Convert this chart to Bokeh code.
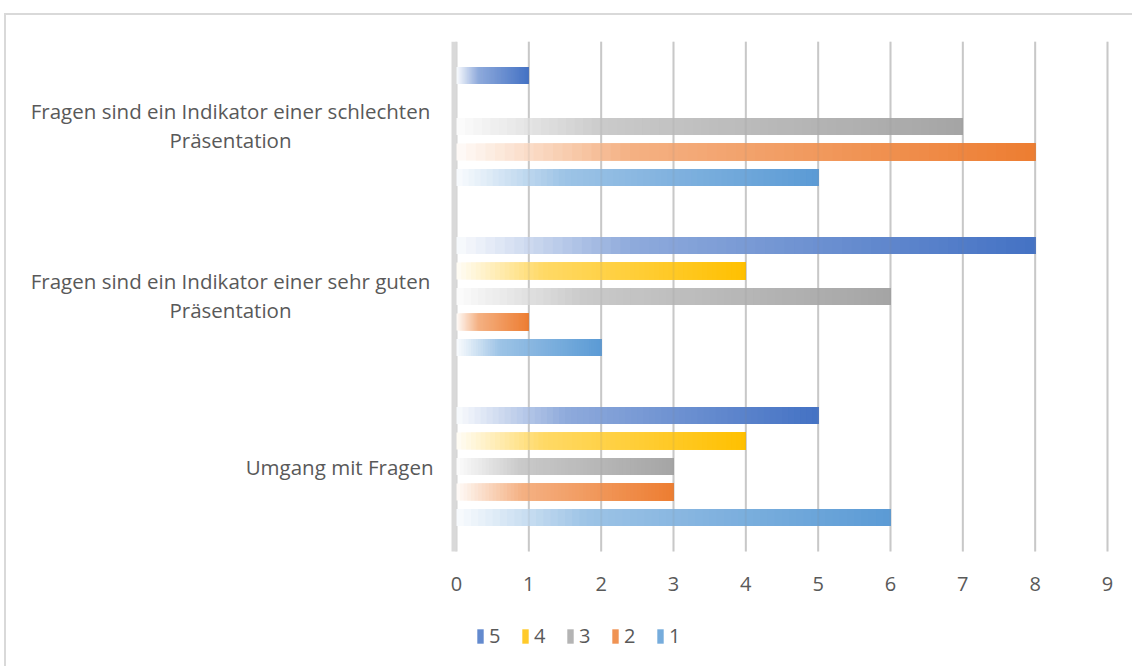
from bokeh.plotting import figure
from bokeh.models import (ColumnDataSource, Legend, LegendItem, FixedTicker,
                          Range1d)
from bokeh.core.properties import value
from bokeh.embed import file_html
from bokeh.resources import INLINE

# Category labels, bottom to top
categories = [
    "Umgang mit Fragen",
    "Fragen sind ein Indikator einer sehr guten\nPräsentation",
    "Fragen sind ein Indikator einer schlechten\nPräsentation",
]

# Answer counts per rating, in category order
values_1 = [6, 2, 5]
values_2 = [3, 1, 8]
values_3 = [3, 6, 7]
values_4 = [4, 4, 0]
values_5 = [5, 8, 1]

series_names = ["1", "2", "3", "4", "5"]
series_values = [values_1, values_2, values_3, values_4, values_5]
series_colors = ["#5B9BD5", "#ED7D31", "#A5A5A5", "#FFC000", "#4472C4"]
series_offsets = [-0.3, -0.15, 0.0, 0.15, 0.3]

x_ticks = list(range(10))

FONT = "Open Sans"
TEXT_COLOR = "#595959"
N_STEPS = 60

# layout in pixels: label column left of the value axis, then the bars;
# below the bars there is room for the tick labels and the legend
LABEL_COL = 450
BAR_AREA = 651
RIGHT_PAD = 25
PX_PER_UNIT = BAR_AREA / 9.0
BAR_HEIGHT_PX = 510
FOOTER_PX = 115
PX_PER_CAT = BAR_HEIGHT_PX / 3.0
Y0 = -0.5 - FOOTER_PX / PX_PER_CAT


def ramp(t):
    """Opacity of the gradient fill at fraction t along a bar."""
    if t < 0.3:
        return 0.03 + (0.6 - 0.03) * t / 0.3
    return 0.6 + 0.4 * (t - 0.3) / 0.7


def tint(hex_color, a):
    r, g, b = (int(hex_color[i:i + 2], 16) for i in (1, 3, 5))
    mix = lambda c: round(255 + (c - 255) * a)
    return "#%02x%02x%02x" % (mix(r), mix(g), mix(b))


p = figure(
    width=1126, height=651,
    frame_width=LABEL_COL + BAR_AREA + RIGHT_PAD,
    frame_height=BAR_HEIGHT_PX + FOOTER_PX,
    x_range=Range1d(-LABEL_COL / PX_PER_UNIT, 9 + RIGHT_PAD / PX_PER_UNIT),
    y_range=Range1d(Y0, 2.5),
    output_backend="svg", toolbar_location=None,
    min_border_left=0, min_border_right=0,
    min_border_top=26, min_border_bottom=0,
)
p.styles = {
    "margin-left": "4px", "margin-top": "13px",
    "border-left": "2px solid #d9d9d9", "border-top": "2px solid #d9d9d9",
}
p.outline_line_color = None
p.background_fill_color = "white"
p.border_fill_color = "white"

p.yaxis.visible = False
p.ygrid.visible = False
p.xgrid.visible = False

xa = p.xaxis[0]
xa.fixed_location = -0.5
xa.ticker = FixedTicker(ticks=x_ticks)
xa.axis_line_color = None
xa.major_tick_line_color = None
xa.minor_tick_line_color = None
xa.major_label_text_font = FONT
xa.major_label_text_font_size = "20px"
xa.major_label_text_color = TEXT_COLOR
xa.major_label_standoff = 19

# vertical grid lines at the ticks, spanning the category area only
p.segment(x0=x_ticks, y0=-0.5, x1=x_ticks, y1=2.5,
          line_color="#d2d2d2", line_width=2, level="underlay")
# value axis base line, just left of the bar starts
p.segment(x0=[-2.5 / PX_PER_UNIT], y0=-0.5, x1=[-2.5 / PX_PER_UNIT], y1=2.5,
          line_color="#d9d9d9", line_width=5, level="underlay")

# Gradient bars: each bar is built from overlapping strips that run from
# a growing start to the bar end, each one a bit more saturated.
legend_items = {}
for name, vals, color, off in zip(series_names, series_values,
                                  series_colors, series_offsets):
    data = dict(y=[], left=[], right=[], color=[])
    for j, v in enumerate(vals):
        if v <= 0:
            continue
        for i in range(N_STEPS):
            t = (i + 0.5) / N_STEPS
            data["y"].append(j + off)
            data["left"].append(v * i / N_STEPS)
            data["right"].append(v)
            data["color"].append(tint(color, ramp(t)))
    r = p.hbar(y="y", left="left", right="right", height=0.1,
               fill_color="color", line_color=None,
               source=ColumnDataSource(data))
    legend_items[name] = LegendItem(label=name, renderers=[r],
                                    index=int(N_STEPS * 0.7))

# faint grid seen through the translucent bars
p.segment(x0=x_ticks[1:], y0=-0.5, x1=x_ticks[1:], y1=2.5,
          line_color="#808080", line_alpha=0.12, line_width=2,
          level="overlay")

# Category labels: wrapped ones are centred in the label column,
# single-line ones sit flush against the value axis
multi = [t for t in categories if "\n" in t]
single = [t for t in categories if "\n" not in t]
p.text(x=[0] * len(multi), y=[categories.index(t) for t in multi],
       text=multi, x_offset=-226, y_offset=-1, text_align="center",
       text_baseline="middle", text_line_height=1.02,
       text_font=value(FONT), text_font_size="20.5px",
       text_color=TEXT_COLOR)
p.text(x=[0] * len(single), y=[categories.index(t) for t in single],
       text=single, x_offset=-23, text_align="right",
       text_baseline="middle",
       text_font=value(FONT), text_font_size="20.5px",
       text_color=TEXT_COLOR)

legend = Legend(
    items=[legend_items[n] for n in ["5", "4", "3", "2", "1"]],
    orientation="horizontal", location=(LABEL_COL + 20, 17),
    glyph_width=8, glyph_height=18, label_standoff=5, spacing=12,
    padding=0, margin=0, border_line_color=None, background_fill_alpha=0,
    label_text_font=FONT, label_text_font_size="20px",
    label_text_color=TEXT_COLOR,
)
p.add_layout(legend, "center")

open("out.html", "w").write(file_html(p, INLINE))
